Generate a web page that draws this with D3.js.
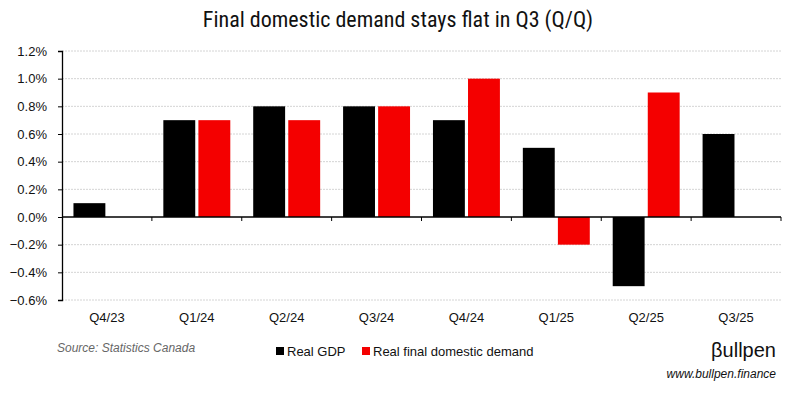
<!DOCTYPE html>
<html>
<head>
<meta charset="utf-8">
<script src="https://cdn.jsdelivr.net/npm/d3@7"></script>
<style>
  body { margin: 0; background: #fff; }
  svg { display: block; font-family: "Liberation Sans", Arial, sans-serif; }
</style>
</head>
<body>
<div id="wrapper"></div>
<script>
const quarters = ["Q4/23", "Q1/24", "Q2/24", "Q3/24", "Q4/24", "Q1/25", "Q2/25", "Q3/25"];
const realGdp = [0.1, 0.7, 0.8, 0.8, 0.7, 0.5, -0.5, 0.6];
const finalDemand = [null, 0.7, 0.7, 0.8, 1.0, -0.2, 0.9, null];
const yTicks = [-0.6, -0.4, -0.2, 0, 0.2, 0.4, 0.6, 0.8, 1.0, 1.2];
const seriesNames = ["Real GDP", "Real final domestic demand"];
const seriesColors = ["#000000", "#f40000"];

const width = 798;
const height = 394;
const margin = { top: 51, right: 17, bottom: 94, left: 62 };
const boundedWidth = width - margin.left - margin.right;
const boundedHeight = height - margin.top - margin.bottom;

const svg = d3.select("#wrapper")
    .append("svg")
    .attr("width", width)
    .attr("height", height);

svg.append("text")
    .attr("x", 398)
    .attr("y", 27)
    .attr("text-anchor", "middle")
    .style("font-family", "'Liberation Sans Narrow', 'Roboto Condensed', Roboto, sans-serif")
    .style("font-size", "22px")
    .attr("fill", "#111")
    .text("Final domestic demand stays flat in Q3 (Q/Q)");

const bounds = svg.append("g")
    .attr("transform", `translate(${margin.left},${margin.top})`);

const yScale = d3.scaleLinear()
    .domain([-0.6, 1.2])
    .range([boundedHeight, 0]);

const x0 = d3.scaleBand()
    .domain(quarters)
    .range([0, boundedWidth])
    .paddingInner(0.255)
    .paddingOuter(0.1275);

const x1 = d3.scaleBand()
    .domain([0, 1])
    .range([0, x0.bandwidth()])
    .paddingInner(0.09);

// grid lines
bounds.append("g")
    .selectAll("line")
    .data(yTicks.filter(d => d !== 0))
    .join("line")
    .attr("x1", 0)
    .attr("x2", boundedWidth)
    .attr("y1", d => yScale(d))
    .attr("y2", d => yScale(d))
    .attr("stroke", "#d4d4d4")
    .attr("stroke-width", 1)
    .attr("stroke-dasharray", "2,1");

const rows = quarters.map((q, i) => ({ q, values: [realGdp[i], finalDemand[i]] }));

const groups = bounds.append("g")
    .selectAll("g")
    .data(rows)
    .join("g")
    .attr("transform", d => `translate(${x0(d.q)},0)`);

groups.selectAll("rect")
    .data(d => d.values.map((v, k) => ({ k, v })).filter(e => e.v !== null))
    .join("rect")
    .attr("x", d => x1(d.k))
    .attr("width", x1.bandwidth())
    .attr("y", d => yScale(Math.max(0, d.v)))
    .attr("height", d => Math.abs(yScale(d.v) - yScale(0)))
    .attr("fill", d => seriesColors[d.k]);

// y axis
const yAxis = bounds.append("g")
    .call(d3.axisLeft(yScale)
        .tickValues(yTicks)
        .tickSize(4)
        .tickFormat(d => d3.format(".1f")(d) + "%"));
yAxis.select(".domain").attr("stroke", "#000").attr("stroke-width", 1.3);
yAxis.selectAll(".tick line").attr("stroke", "#000");
yAxis.selectAll(".tick text")
    .attr("x", -15)
    .style("font-size", "13px")
    .attr("fill", "#111");

// zero axis with category boundary ticks
const zeroY = yScale(0);
bounds.append("line")
    .attr("x1", 0)
    .attr("x2", boundedWidth)
    .attr("y1", zeroY)
    .attr("y2", zeroY)
    .attr("stroke", "#000")
    .attr("stroke-width", 1.3);

const step = x0.step();
bounds.append("g")
    .selectAll("line")
    .data(quarters)
    .join("line")
    .attr("x1", d => x0(d) - x0.paddingOuter() * step + step)
    .attr("x2", d => x0(d) - x0.paddingOuter() * step + step)
    .attr("y1", zeroY)
    .attr("y2", zeroY + 4)
    .attr("stroke", "#000");

// category labels
bounds.append("g")
    .selectAll("text")
    .data(quarters)
    .join("text")
    .attr("x", d => x0(d) + x0.bandwidth() / 2)
    .attr("y", boundedHeight + 22)
    .attr("text-anchor", "middle")
    .style("font-size", "13px")
    .attr("fill", "#111")
    .text(d => d);

// source
svg.append("text")
    .attr("x", 57)
    .attr("y", 352)
    .style("font-size", "12px")
    .style("font-style", "italic")
    .attr("fill", "#666")
    .text("Source: Statistics Canada");

// legend
const legendX = [276, 362];
const legend = svg.append("g")
    .selectAll("g")
    .data(seriesNames)
    .join("g")
    .attr("transform", (d, i) => `translate(${legendX[i]},347)`);
legend.append("rect")
    .attr("width", 8)
    .attr("height", 8)
    .attr("fill", (d, i) => seriesColors[i]);
legend.append("text")
    .attr("x", 11)
    .attr("y", 8.5)
    .style("font-size", "13px")
    .attr("fill", "#111")
    .text(d => d);

// brand
svg.append("text")
    .attr("x", 776)
    .attr("y", 357)
    .attr("text-anchor", "end")
    .style("font-size", "20px")
    .attr("fill", "#111")
    .text("βullpen");

svg.append("text")
    .attr("x", 776)
    .attr("y", 378)
    .attr("text-anchor", "end")
    .style("font-size", "12px")
    .style("font-style", "italic")
    .attr("fill", "#111")
    .text("www.bullpen.finance");
</script>
</body>
</html>
